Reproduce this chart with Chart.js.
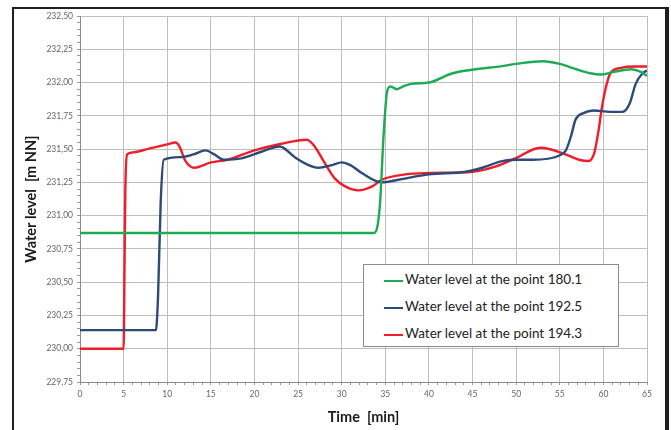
<!DOCTYPE html>
<html lang="en">

<head>
    <meta charset="UTF-8">
    <title>Water level</title>
    <script src="https://cdn.jsdelivr.net/npm/chart.js"></script>
    <style>
        html, body { margin: 0; padding: 0; background: #fff; }
        #wrap { position: relative; width: 671px; height: 430px; overflow: hidden; }
        #frame {
            position: absolute; left: 12px; top: 7px; width: 651px; height: 440px;
            border: 2px solid #1e1e1e; border-right-width: 4px; pointer-events: none;
        }
        #legenda {
            position: absolute; left: 363px; top: 264px; width: 254px; height: 81px;
            border: 1px solid #8c8c8c; background: #fff;
            font-family: Lato, "Open Sans", sans-serif; font-size: 13.5px; color: #222;
            box-sizing: content-box;
        }
        .riga { position: absolute; left: 20px; height: 18px; line-height: 18px; white-space: nowrap; }
        .riga span { display: inline-block; width: 19px; height: 2px; vertical-align: middle; margin-right: 2px; }
    </style>
</head>

<body>
    <div id="wrap">
        <canvas id="grafico" width="671" height="430"></canvas>
        <div id="legenda"></div>
        <div id="frame"></div>
    </div>

    <script>
        // Serie: punto 180.1 (verde)
        const tempo1801 = [0, 10, 20, 30, 33.7, 34.1, 34.4, 34.8, 35.2, 35.6, 36.3, 37, 38, 40, 42.7, 45.4, 48, 50, 53.1, 55, 56.9, 58.5, 59.7, 61.2, 63.2, 64.3, 65];
        const livello1801 = [230.87, 230.87, 230.87, 230.87, 230.87, 230.92, 231.1, 231.6, 231.93, 231.97, 231.95, 231.97, 231.99, 232.0, 232.07, 232.1, 232.12, 232.14, 232.16, 232.14, 232.1, 232.07, 232.06, 232.08, 232.1, 232.08, 232.05];

        // Serie: punto 192.5 (blu)
        const tempo1925 = [0, 8.7, 8.95, 9.25, 9.6, 11.5, 13, 14.4, 15.4, 16.5, 18.5, 20.8, 22.9, 24.6, 26.2, 27.3, 28.9, 30, 31, 32.3, 34.6, 36.5, 40, 44.2, 46.1, 48.4, 50.3, 51.9, 54.9, 55.7, 56.3, 56.8, 57.7, 58.9, 60.8, 62.2, 63, 63.7, 64.5, 65];
        const livello1925 = [230.14, 230.14, 230.4, 231.1, 231.42, 231.44, 231.46, 231.49, 231.46, 231.42, 231.43, 231.48, 231.52, 231.44, 231.38, 231.36, 231.38, 231.4, 231.38, 231.32, 231.25, 231.27, 231.31, 231.33, 231.36, 231.41, 231.42, 231.42, 231.45, 231.49, 231.6, 231.72, 231.77, 231.79, 231.78, 231.78, 231.84, 231.99, 232.07, 232.09];

        // Serie: punto 194.3 (rosso)
        const tempo1943 = [0, 5.0, 5.1, 5.2, 5.4, 6, 8, 10, 10.96, 11.4, 12.1, 13.1, 15, 16.9, 20, 23.1, 26, 26.9, 28.1, 29.2, 30.4, 31.9, 33.5, 34.6, 37.3, 40, 45, 47.7, 49.9, 52.8, 55.3, 57.2, 58.3, 58.95, 59.4, 59.8, 60.2, 60.8, 62, 63.5, 65];
        const livello1943 = [230.0, 230.0, 230.6, 231.2, 231.46, 231.475, 231.505, 231.535, 231.55, 231.52, 231.41, 231.36, 231.4, 231.42, 231.49, 231.54, 231.57, 231.52, 231.39, 231.28, 231.22, 231.19, 231.22, 231.27, 231.31, 231.32, 231.33, 231.37, 231.43, 231.51, 231.47, 231.42, 231.41, 231.47, 231.62, 231.8, 231.94, 232.07, 232.11, 232.12, 232.12];

        const etichette = ['Water level at the point 180.1', 'Water level at the point 192.5', 'Water level at the point 194.3'];
        const colori = ['#1faa55', '#2e4a78', '#ee1d2a'];

        const tickX = [0, 5, 10, 15, 20, 25, 30, 35, 40, 45, 50, 55, 60, 65];
        const tickY = [229.75, 230.0, 230.25, 230.5, 230.75, 231.0, 231.25, 231.5, 231.75, 232.0, 232.25, 232.5];

        function punti(t, v) {
            return t.map((x, i) => ({ x: x, y: v[i] }));
        }

        function maggioreY(v) {
            return tickY.some(t => Math.abs(t - v) < 1e-6);
        }

        const ctx = document.getElementById('grafico').getContext('2d');

        const grafico = new Chart(ctx, {
            type: 'line',
            data: {
                datasets: [
                    { label: etichette[0], data: punti(tempo1801, livello1801), borderColor: colori[0] },
                    { label: etichette[1], data: punti(tempo1925, livello1925), borderColor: colori[1] },
                    { label: etichette[2], data: punti(tempo1943, livello1943), borderColor: colori[2] }
                ]
            },
            options: {
                responsive: false,
                animation: false,
                elements: {
                    line: { borderWidth: 2.4, cubicInterpolationMode: 'monotone', fill: false },
                    point: { radius: 0 }
                },
                layout: { padding: { left: 23, right: 24, top: 16, bottom: 4 } },
                plugins: {
                    legend: { display: false },
                    tooltip: { enabled: false }
                },
                scales: {
                    x: {
                        type: 'linear',
                        min: 0,
                        max: 65,
                        afterFit: function (s) { s.height = 44; },
                        ticks: {
                            stepSize: 1,
                            autoSkip: false,
                            maxRotation: 0,
                            padding: 4,
                            color: '#666',
                            font: { family: 'Lato', size: 8.5 },
                            callback: v => tickX.includes(v) ? String(v) : ''
                        },
                        grid: {
                            color: c => tickX.includes(c.tick.value) ? '#bdbdbd' : 'rgba(0,0,0,0)',
                            tickColor: '#9a9a9a',
                            tickLength: 3,
                            lineWidth: 1
                        },
                        border: { color: '#8a8a8a' },
                        title: {
                            display: true,
                            text: 'Time  [min]',
                            color: '#1a1a1a',
                            font: { family: 'Lato', size: 14.5, weight: 'bold' },
                            padding: { top: 2, bottom: 0 }
                        }
                    },
                    y: {
                        min: 229.75,
                        max: 232.5,
                        afterFit: function (s) { s.width = 57; },
                        ticks: {
                            stepSize: 0.05,
                            autoSkip: false,
                            padding: 4,
                            color: '#666',
                            font: { family: 'Lato', size: 8.5 },
                            callback: v => maggioreY(v) ? v.toFixed(2).replace('.', ',') : ''
                        },
                        grid: {
                            color: c => maggioreY(c.tick.value) ? '#bdbdbd' : 'rgba(0,0,0,0)',
                            tickColor: '#9a9a9a',
                            tickLength: 3,
                            lineWidth: 1
                        },
                        border: { color: '#8a8a8a' },
                        title: {
                            display: true,
                            text: 'Water level  [m NN]',
                            color: '#1a1a1a',
                            font: { family: 'Lato', size: 14.5, weight: 'bold' },
                            padding: { top: 0, bottom: 0 }
                        }
                    }
                }
            }
        });

        // Legenda in HTML, costruita dai dataset
        const legenda = document.getElementById('legenda');
        grafico.data.datasets.forEach(function (ds, i) {
            const r = document.createElement('div');
            r.className = 'riga';
            r.style.top = (5 + i * 27) + 'px';
            r.innerHTML = '<span style="background:' + ds.borderColor + '"></span>' + ds.label;
            legenda.appendChild(r);
        });
    </script>
</body>

</html>
